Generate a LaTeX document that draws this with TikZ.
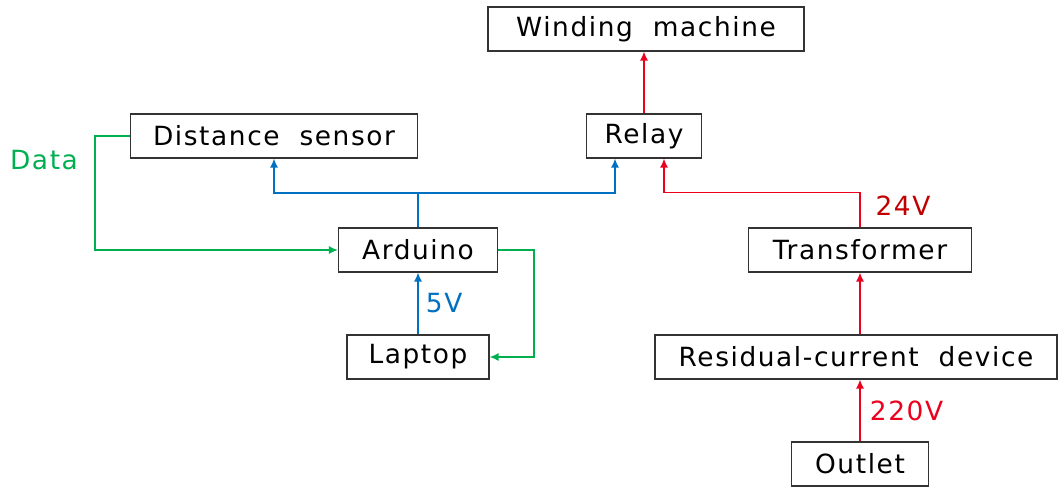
\documentclass[tikz,border=0pt]{standalone}
\usepackage{fontspec}
\setmainfont[LetterSpace=6]{DejaVu Sans}
\usepackage{tikz}
\usetikzlibrary{arrows.meta,calc}
\definecolor{datagreen}{RGB}{0,176,80}
\definecolor{ctrlblue}{RGB}{0,112,192}
\definecolor{powerred}{RGB}{235,0,30}
\definecolor{darkred}{RGB}{192,0,0}

\begin{document}
\begin{tikzpicture}[
  box/.style={draw=black!80,line width=1.2bp,minimum height=44bp,inner sep=0pt,font=\fontsize{26.5}{30}\selectfont},
  flow/.style={-{Latex[length=9bp,width=8bp]},line width=1.3bp},
  lbl/.style={font=\fontsize{26.5}{30}\selectfont}]
\useasboundingbox (0bp,0bp) rectangle (1058bp,-488bp);
\node (WM) at (646bp,-29bp)[box,minimum width=316bp] {Winding\ \ machine};
\node (DS) at (274bp,-136bp)[box,minimum width=287bp] {Distance\ \ sensor};
\node (RL) at (644bp,-136bp)[box,minimum width=115bp] {Relay};
\node (AR) at (418bp,-250bp)[box,minimum width=159bp] {Arduino};
\node (TR) at (860bp,-250bp)[box,minimum width=223bp] {Transformer};
\node (LP) at (418bp,-357bp)[box,minimum width=142bp] {Laptop};
\node (RCD) at (856bp,-357bp)[box,minimum width=402bp] {Residual-current\ \ device};
\node (OU) at (860bp,-464bp)[box,minimum width=137bp] {Outlet};
\coordinate (split) at (418bp,-193bp);
% control lines
\draw [flow,ctrlblue] (AR.north) -- (split) -| (DS.south);
\draw [flow,ctrlblue] (split) -| ([xshift=-29bp]RL.south);
\draw [flow,ctrlblue] (LP.north) -- node[right,lbl,xshift=4bp] {5V} (AR.south);
% data lines
\draw [flow,datagreen] (DS.west) -- ++(-35bp,0) |- (AR.west);
\draw [flow,datagreen] (AR.east) -- ++(36bp,0) |- (LP.east);
\node (DT) at (44bp,-160bp)[lbl,text=datagreen] {Data};
% power lines
\draw [flow,powerred] (RL.north) -- (RL.north |- WM.south);
\draw [flow,powerred] (TR.north) -- ++(0,35bp) -| ([xshift=20bp]RL.south);
\node (V24) at (903bp,-206bp)[lbl,text=darkred] {24V};
\draw [flow,powerred] (RCD.north -| TR.south) -- (TR.south);
\draw [flow,powerred] (OU.north) -- node[right,lbl,xshift=6bp] {220V} (RCD.south -| OU.north);
\end{tikzpicture}
\end{document}
